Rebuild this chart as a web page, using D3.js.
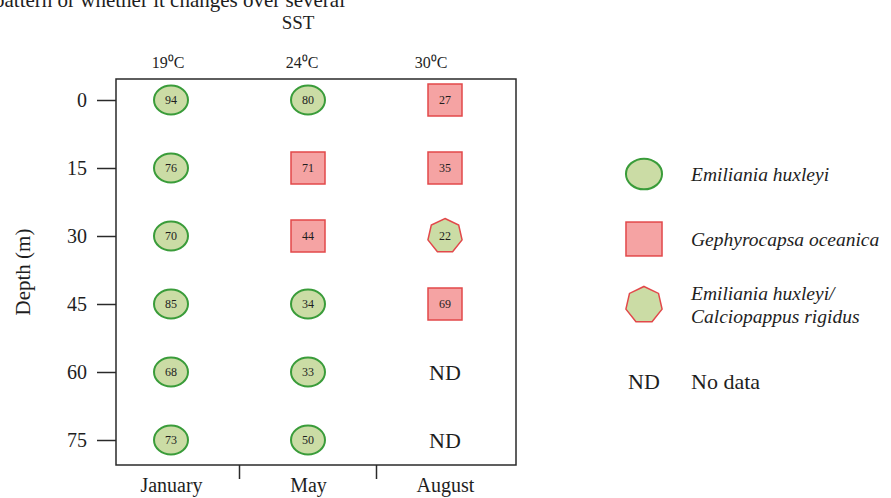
<!DOCTYPE html>
<html><head><meta charset="utf-8">
<script src="https://cdn.jsdelivr.net/npm/d3@7"></script>
<style>body{margin:0;background:#fff}svg{display:block}text{font-family:"Liberation Serif","Times New Roman",serif;fill:#1e1e1e}</style>
</head><body><svg id="c" width="891" height="498"></svg>
<script>
const months = ["January", "May", "August"];
const temps = ["19\u2070C", "24\u2070C", "30\u2070C"];
const depths = [0, 15, 30, 45, 60, 75];
// type codes: E = Emiliania huxleyi, G = Gephyrocapsa oceanica, H = E. huxleyi / C. rigidus, ND = no data
const janValues = [94, 76, 70, 85, 68, 73];
const janTypes = ["E", "E", "E", "E", "E", "E"];
const mayValues = [80, 71, 44, 34, 33, 50];
const mayTypes = ["E", "G", "G", "E", "E", "E"];
const augValues = [27, 35, 22, 69, null, null];
const augTypes = ["G", "G", "H", "G", "ND", "ND"];
const legendLabels = [["Emiliania huxleyi"], ["Gephyrocapsa oceanica"], ["Emiliania huxleyi/", "Calciopappus rigidus"], ["No data"]];
const legendTypes = ["E", "G", "H", "ND"];

const svg = d3.select("#c");
const box = {l: 116, t: 79, r: 516, b: 465};
const x = d3.scalePoint().domain(months).range([171, 445]);
const y = d3.scaleLinear().domain([0, 75]).range([100, 440]);

const green = {fill: "#cbdca5", stroke: "#3a9c3a"};
const red = {fill: "#f5a3a3", stroke: "#e2484a"};

// cut-off text line at the top of the page
svg.append("text").attr("x", -6).attr("y", 7).style("font-size", "21px").text("pattern or whether it changes over several");

svg.append("text").attr("x", 298).attr("y", 29).attr("text-anchor", "middle").style("font-size", "19px").text("SST");
const tempOffset = [-3, -6, -14];
svg.selectAll(".temp").data(temps).join("text").attr("class", "temp")
  .attr("x", (d, i) => x(months[i]) + tempOffset[i]).attr("y", 68)
  .attr("text-anchor", "middle").style("font-size", "16px").text(d => d);

// frame
svg.append("rect").attr("x", box.l).attr("y", box.t).attr("width", box.r - box.l).attr("height", box.b - box.t)
  .attr("fill", "none").attr("stroke", "#2a2a2a").attr("stroke-width", 1.5);

// y axis
const ya = svg.append("g").attr("transform", `translate(${box.l},0)`)
  .call(d3.axisLeft(y).tickValues(depths).tickSize(19).tickPadding(10).tickFormat(d3.format("d")));
ya.select(".domain").remove();
ya.selectAll("line").attr("stroke", "#2a2a2a").attr("stroke-width", 1.5);
ya.selectAll("text").style("font-size", "20px").style("font-family", "Liberation Serif, serif").attr("fill", "#1e1e1e").attr("dy", "0.34em");

svg.append("text").attr("transform", "translate(30,272) rotate(-90)").attr("text-anchor", "middle").style("font-size", "21px").text("Depth (m)");

// x axis
const xa = svg.append("g").attr("transform", `translate(0,${box.b})`)
  .call(d3.axisBottom(x).tickSize(0).tickPadding(0));
xa.select(".domain").remove();
xa.selectAll("text").style("font-size", "20px").style("font-family", "Liberation Serif, serif").attr("fill", "#1e1e1e").attr("dy", null).attr("y", 27);
const step = x.step();
const dividers = months.slice(1).map(m => x(m) - step / 2);
svg.selectAll(".div").data(dividers).join("line").attr("class", "div")
  .attr("x1", d => d).attr("x2", d => d).attr("y1", box.b).attr("y2", box.b + 14)
  .attr("stroke", "#2a2a2a").attr("stroke-width", 1.5);

function heptPoints(cx, cy, r) {
  const pts = [];
  for (let k = 0; k < 7; k++) {
    const a = -Math.PI / 2 + k * 2 * Math.PI / 7;
    pts.push([cx + r * Math.cos(a), cy + r * Math.sin(a)]);
  }
  return pts.map(p => p.join(",")).join(" ");
}

function drawMarker(g, type, cx, cy, val, s) {
  if (type === "E") {
    g.append("ellipse").attr("cx", cx).attr("cy", cy).attr("rx", 17 * s).attr("ry", 14.5 * s)
      .attr("fill", green.fill).attr("stroke", green.stroke).attr("stroke-width", 2);
  } else if (type === "G") {
    g.append("rect").attr("x", cx - 17 * s).attr("y", cy - 16 * s).attr("width", 34 * s).attr("height", 32 * s)
      .attr("fill", red.fill).attr("stroke", red.stroke).attr("stroke-width", 1.5);
  } else if (type === "H") {
    g.append("polygon").attr("points", heptPoints(cx, cy, 17.5 * s))
      .attr("fill", green.fill).attr("stroke", red.stroke).attr("stroke-width", 1.5);
  } else {
    g.append("text").attr("x", cx).attr("y", cy).attr("dy", "0.35em").attr("text-anchor", "middle")
      .style("font-size", "22px").text("ND");
  }
  if (val != null) {
    g.append("text").attr("x", cx).attr("y", cy).attr("dy", "0.35em").attr("text-anchor", "middle")
      .style("font-size", "12px").attr("fill", "#2e2e2e").text(val);
  }
}

const cols = [[janValues, janTypes], [mayValues, mayTypes], [augValues, augTypes]];
const marks = svg.append("g");
cols.forEach(([vals, types], i) => {
  depths.forEach((d, j) => drawMarker(marks, types[j], x(months[i]), y(d), vals[j], 1));
});

// legend
const lg = svg.append("g");
const legY = [174, 239, 305, 381];
legendTypes.forEach((t, i) => {
  drawMarker(lg, t, 644, legY[i], null, 1.06);
  const lines = legendLabels[i];
  const txt = lg.append("text").attr("x", 691).style("font-size", t === "ND" ? "22px" : "19.5px")
    .style("font-style", t === "ND" ? "normal" : "italic");
  lines.forEach((l, k) => {
    txt.append("tspan").attr("x", 691).attr("y", legY[i] + (k - (lines.length - 1) / 2) * 23).attr("dy", "0.35em").text(l);
  });
});
</script></body></html>
